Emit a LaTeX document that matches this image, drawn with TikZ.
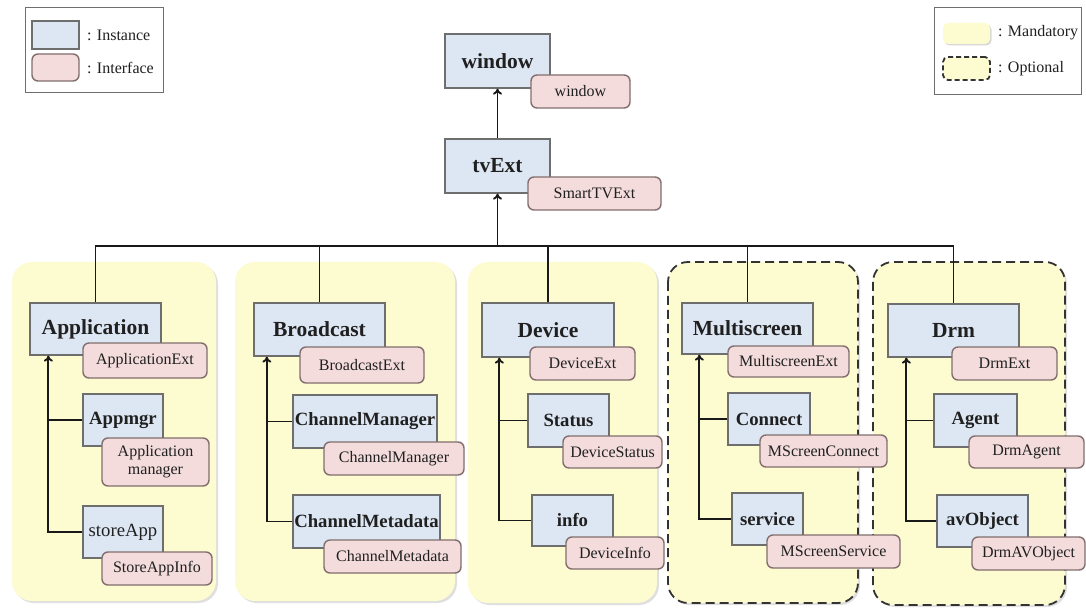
\documentclass[tikz,border=0pt]{standalone}
\usepackage{fontspec}
\setmainfont{Liberation Serif}
\usetikzlibrary{arrows.meta,shadows}
\definecolor{instfill}{RGB}{221,231,244}
\definecolor{instdraw}{RGB}{110,110,110}
\definecolor{intffill}{RGB}{244,220,220}
\definecolor{intfdraw}{RGB}{130,110,110}
\definecolor{yel}{RGB}{253,251,208}
\definecolor{txt}{RGB}{32,32,32}
\definecolor{lne}{RGB}{25,25,25}
\begin{document}
\begin{tikzpicture}[x=1pt,y=-1pt,
  inst/.style={draw=instdraw, fill=instfill, line width=1.3pt, inner sep=0pt, text=txt},
  topf/.style={font=\fontsize{21.5}{24}\selectfont\bfseries},
  subf/.style={font=\fontsize{18.7}{21}\selectfont\bfseries},
  subr/.style={font=\fontsize{18.7}{21}\selectfont},
  intf/.style={draw=intfdraw, fill=intffill, line width=1.4pt, rounded corners=6pt, inner sep=0pt, text=txt, font=\fontsize{16}{18}\selectfont, align=center},
  grp/.style={fill=yel, rounded corners=20pt, drop shadow={opacity=0.25, shadow xshift=2pt, shadow yshift=-2pt}},
  optgrp/.style={grp, draw=black!80, line width=1.8pt, dash pattern=on 9pt off 5pt},
  conn/.style={draw=lne, line width=1.9pt},
  arr/.style={conn, -{To[length=6pt,width=9pt]}},
  lgtxt/.style={anchor=west, inner sep=0pt, text=txt, font=\fontsize{16}{18}\selectfont}
]
\path[use as bounding box, fill=white] (0,0) rectangle (1086,609);

% groups
\path[grp] (12,262) rectangle (216,601);
\path[grp] (235,262) rectangle (455,601);
\path[grp] (468,262) rectangle (657,603);
\path[optgrp] (668,262) rectangle (858,603);
\path[optgrp] (873,262) rectangle (1065,605);

% legends
\node[draw=instdraw, line width=1pt, minimum width=138pt, minimum height=85pt, inner sep=0pt] (legL) at (94,50.5) {};
\node[inst, minimum width=47pt, minimum height=28pt] (lgInst) at (55.5,35) {};
\node[intf, minimum width=47pt, minimum height=27pt] (lgIntf) at (55.5,67.5) {};
\node[lgtxt] (lgInstT) at (87,35) {: Instance};
\node[lgtxt] (lgIntfT) at (87,68) {: Interface};

\node[draw=instdraw, line width=1pt, minimum width=147pt, minimum height=87pt, inner sep=0pt] (legR) at (1007.5,51.5) {};
\node[fill=yel, rounded corners=5pt, minimum width=47pt, minimum height=21pt, inner sep=0pt, drop shadow={opacity=0.3, shadow xshift=1.5pt, shadow yshift=-1.5pt}] (lgMand) at (966.5,33.5) {};
\node[fill=yel, draw=black!80, line width=1.8pt, dash pattern=on 5pt off 3pt, rounded corners=5pt, minimum width=47pt, minimum height=23pt, inner sep=0pt] (lgOpt) at (966.5,68.5) {};
\node[lgtxt] (lgMandT) at (998,33) {: Mandatory};
\node[lgtxt] (lgOptT) at (998,69) {: Optional};

% top
\node[inst, topf, minimum width=105pt, minimum height=54pt] (window) at (497.5,61) {window};
\node[intf, minimum width=99pt, minimum height=33pt] (windowI) at (580.5,91.5) {window};
\node[inst, topf, minimum width=105pt, minimum height=54pt] (tvExt) at (497.5,166) {tvExt};
\node[intf, minimum width=133pt, minimum height=33pt] (tvExtI) at (594.5,193.5) {SmartTVExt};

% Application
\node[inst, topf, minimum width=131pt, minimum height=52pt] (app) at (95.5,329) {Application};
\node[intf, minimum width=124pt, minimum height=35pt] (appI) at (145,360.5) {ApplicationExt};
\node[inst, subf, minimum width=80pt, minimum height=52pt] (appmgr) at (123,420) {Appmgr};
\node[intf, minimum width=107pt, minimum height=48pt] (appmgrI) at (155.5,462) {Application\\manager};
\node[inst, subr, minimum width=80pt, minimum height=52pt] (store) at (123,532) {storeApp};
\node[intf, minimum width=110pt, minimum height=33pt] (storeI) at (157,568.5) {StoreAppInfo};

% Broadcast
\node[inst, topf, minimum width=131pt, minimum height=53pt] (bc) at (319.5,329.5) {Broadcast};
\node[intf, minimum width=124pt, minimum height=36pt] (bcI) at (362,365) {BroadcastExt};
\node[inst, subf, minimum width=144pt, minimum height=53pt] (chmgr) at (365,421.5) {ChannelManager};
\node[intf, minimum width=140pt, minimum height=33pt] (chmgrI) at (394,458.5) {ChannelManager};
\node[inst, subf, minimum width=147pt, minimum height=53pt] (chmeta) at (366.5,521.5) {ChannelMetadata};
\node[intf, minimum width=137pt, minimum height=33pt] (chmetaI) at (392.5,556.5) {ChannelMetadata};

% Device
\node[inst, topf, minimum width=132pt, minimum height=54pt] (dev) at (548,330) {Device};
\node[intf, minimum width=105pt, minimum height=33pt] (devI) at (582.5,363.5) {DeviceExt};
\node[inst, subf, minimum width=81pt, minimum height=53pt] (status) at (568.5,420.5) {Status};
\node[intf, minimum width=99pt, minimum height=32pt] (statusI) at (612.5,452) {DeviceStatus};
\node[inst, subf, minimum width=81pt, minimum height=51pt] (info) at (572.5,520.5) {info};
\node[intf, minimum width=98pt, minimum height=32pt] (infoI) at (615,553) {DeviceInfo};

% Multiscreen
\node[inst, topf, minimum width=131pt, minimum height=51pt] (ms) at (747.5,328.5) {Multiscreen};
\node[intf, minimum width=121pt, minimum height=31pt] (msI) at (788.5,361.5) {MultiscreenExt};
\node[inst, subf, minimum width=82pt, minimum height=52pt] (conn) at (769,419) {Connect};
\node[intf, minimum width=127pt, minimum height=32pt] (connI) at (823.5,451) {MScreenConnect};
\node[inst, subf, minimum width=71pt, minimum height=52pt] (serv) at (767.5,519) {service};
\node[intf, minimum width=133pt, minimum height=33pt] (servI) at (833.5,551.5) {MScreenService};

% Drm
\node[inst, topf, minimum width=131pt, minimum height=53pt] (drm) at (953.5,330.5) {Drm};
\node[intf, minimum width=105pt, minimum height=33pt] (drmI) at (1004.5,363.5) {DrmExt};
\node[inst, subf, minimum width=83pt, minimum height=53pt] (agent) at (975.5,420.5) {Agent};
\node[intf, minimum width=115pt, minimum height=32pt] (agentI) at (1026.5,452) {DrmAgent};
\node[inst, subf, minimum width=91pt, minimum height=52pt] (avo) at (982.5,521) {avObject};
\node[intf, minimum width=113pt, minimum height=33pt] (avoI) at (1028.5,553.5) {DrmAVObject};

% connectors top
\coordinate (bus) at (497.5,246);
\draw[arr] (tvExt.north) -- (window.south);
\draw[arr] (bus) -- (tvExt.south);
\draw[conn] (app.north) -- (app.north |- bus) -- (drm.north |- bus) -- (drm.north);
\draw[conn] (bc.north) -- (bc.north |- bus);
\draw[conn] (dev.north) -- (dev.north |- bus);
\draw[conn] (ms.north) -- (ms.north |- bus);

% trunks
\coordinate (tA) at ([xshift=19pt]app.south west);
\draw[arr] (store.west) -| (tA);
\draw[conn] (appmgr.west) -- (appmgr.west -| tA);
\coordinate (tB) at ([xshift=13.5pt]bc.south west);
\draw[arr] (chmeta.west) -| (tB);
\draw[conn] (chmgr.west) -- (chmgr.west -| tB);
\coordinate (tC) at ([xshift=18pt]dev.south west);
\draw[arr] (info.west) -| (tC);
\draw[conn] (status.west) -- (status.west -| tC);
\coordinate (tD) at ([xshift=18pt]ms.south west);
\draw[arr] (serv.west) -| (tD);
\draw[conn] (conn.west) -- (conn.west -| tD);
\coordinate (tE) at ([xshift=19pt]drm.south west);
\draw[arr] (avo.west) -| (tE);
\draw[conn] (agent.west) -- (agent.west -| tE);
\end{tikzpicture}
\end{document}
